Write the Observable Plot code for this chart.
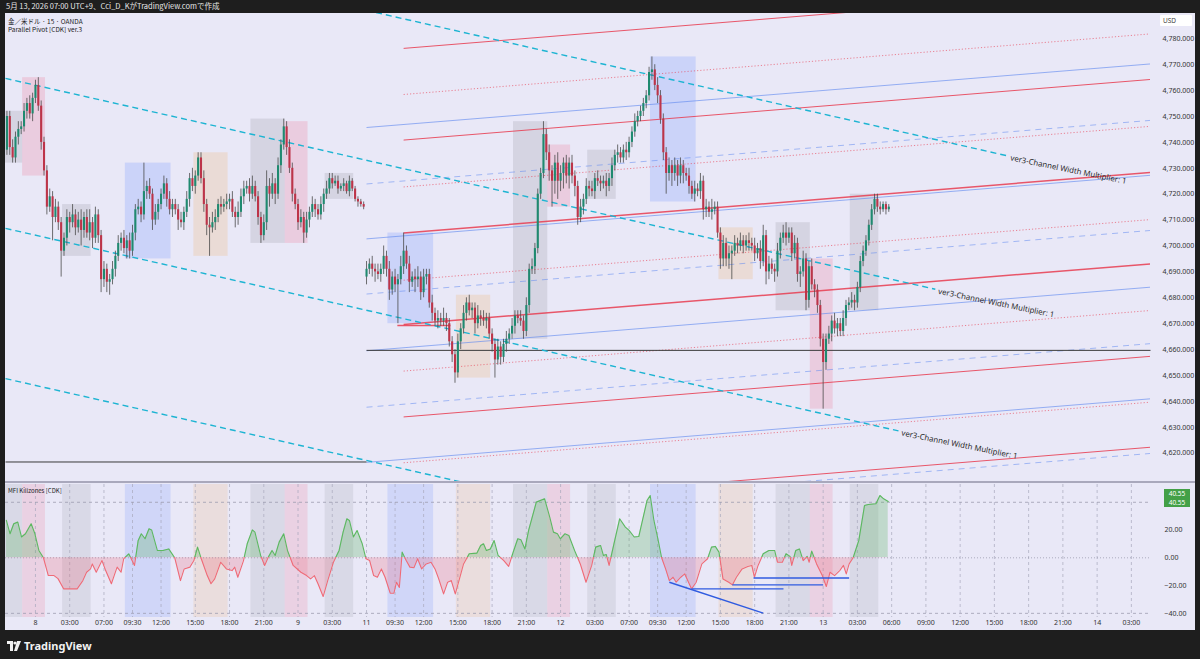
<!DOCTYPE html>
<html><head><meta charset="utf-8">
<script src="https://cdn.jsdelivr.net/npm/d3@7"></script>
<script src="https://cdn.jsdelivr.net/npm/@observablehq/plot@0.6"></script>
<style>
html,body{margin:0;padding:0;background:#1e1e1e;width:1200px;height:659px;overflow:hidden;font-family:"Noto Sans",sans-serif;}
#topbar{position:absolute;left:6px;top:0px;color:#e6e6e6;font-size:7.5px;line-height:12px;font-family:"Noto Sans CJK JP","Noto Sans",sans-serif;}
#chart{position:absolute;left:5px;top:13px;width:1190px;height:617px;background:#e9e8f7;overflow:hidden;}
#main{position:absolute;left:0;top:0;}
#sep{position:absolute;left:0;top:468px;width:1190px;height:2px;background:#a9a8bc;}
#mfi{position:absolute;left:0;top:471px;}
.clipbox{position:absolute;left:0;width:1190px;overflow:hidden;}
.clipbox > svg{position:absolute;left:0;}
.legend{position:absolute;left:3px;color:#222;font-size:6.5px;line-height:8px;font-family:"Noto Sans CJK JP","Noto Sans",sans-serif;}
#usd{position:absolute;left:1155px;top:2px;width:29px;height:11px;background:#fff;color:#444;font-size:6.5px;line-height:11px;padding-left:3px;border-radius:1px;}
.mfilab{position:absolute;left:1159px;width:26px;height:9px;background:#43a047;color:#fff;font-size:6.5px;line-height:9px;text-align:center;}
#logo{position:absolute;left:7px;top:638px;color:#f2f2f2;font-size:11px;font-weight:bold;display:flex;align-items:center;gap:3px;font-family:"Noto Sans",sans-serif;}
</style></head>
<body>
<div id="topbar">5月 13, 2026 07:00 UTC+9、Cci_D_KがTradingView.comで作成</div>
<div id="chart">
  <div id="main"></div>
  <div id="sep"></div>
  <div id="mfi"></div>
  <div id="mfiPos" class="clipbox"></div>
  <div id="mfiNeg" class="clipbox"></div>
  <div class="legend" style="top:4px">金／米ドル · 15 · OANDA</div>
  <div class="legend" style="top:12px">Parallel Pivot [CDK] ver.3</div>
  <div class="legend" style="top:474px;font-size:6px">MFI Killzones [CDK]</div>
  <div id="usd">USD</div>
  <div class="mfilab" style="top:476px">40.55</div>
  <div class="mfilab" style="top:485px">40.55</div>
</div>
<div id="logo"><svg width="14" height="10" viewBox="0 0 14 10"><rect x="0" y="0" width="6" height="3" fill="#f2f2f2"/><rect x="3" y="0" width="3" height="10" fill="#f2f2f2"/><circle cx="8" cy="2" r="1.6" fill="#f2f2f2"/><polygon points="10,0 14,0 10,10 7,10" fill="#f2f2f2"/></svg>TradingView</div>
<script>
// ---------- candle data (15-minute bars, bar index 0 = May 8 00:00) ----------
const startA = -10, openA0 = 4737;
const closeA = [4750,4738,4734,4742,4745,4746,4752,4755,4751,4757,
 4762,4754,4740,4729,4715,4719,4711,4715,4709,4698,
 4703,4711,4709,4712,4707,4710,4706,4711,4705,4709,
 4703,4712,4704,4687,4691,4686,4687,4691,4696,4701,
 4703,4699,4702,4698,4705,4714,4715,4712,4721,4723,
 4720,4710,4713,4716,4720,4724,4718,4714,4716,4714,
 4710,4709,4713,4718,4726,4723,4727,4734,4726,4716,
 4708,4707,4709,4711,4716,4715,4716,4717,4718,4713,
 4711,4713,4719,4722,4723,4720,4723,4719,4711,4704,
 4709,4723,4720,4724,4720,4731,4739,4746,4738,4730,
 4720,4716,4709,4711,4705,4710,4713,4716,4714,4712,
 4716,4720,4722,4726,4724,4725,4722,4723,4724,4721,
 4725,4722,4718,4717,4716,4715];
const upA = [2,2,3,2,3,2,3,2,3,2, 2,3,2,2,2,3,2,3,2,2, 2,3,2,4,2,3,4,2,3,5, 2,3,2,2,3,2,2,3,2,3,
 2,3,2,3,3,2,3,2,11,2, 3,2,3,2,2,3,2,3,2,2, 2,3,2,3,2,4,2,2,2,3, 2,3,4,3,2,3,2,3,2,3,
 2,4,3,3,2,3,4,2,2,2, 3,6,3,4,2,3,2,3,2,3, 2,2,2,3,2,3,2,3,2,2, 3,2,3,2,2,2,2,1,2,1, 2,1,1,1,1,1];
const dnA = [2,3,2,2,3,2,2,3,2,3, 2,2,3,2,3,2,9,2,3,10, 2,3,4,2,3,2,6,3,2,3, 4,2,3,5,3,4,5,2,3,2,
 3,2,4,3,2,3,2,3,2,3, 2,4,2,3,2,2,3,2,3,2, 4,2,3,2,3,2,3,2,2,3, 4,11,2,3,2,3,2,2,3,2,
 4,3,2,3,2,3,2,2,3,3, 2,3,5,2,4,2,3,2,3,2, 3,2,3,2,4,2,3,2,3,2, 2,3,2,2,2,1,2,1,2,1, 2,1,1,2,1,1];

const startB = 116, openB0 = 4688;
const closeB = [4691,4693,4691,4690,4689,4691,4696,4691,4683,4688,
 4685,4687,4692,4698,4693,4686,4688,4687,4688,4682,
 4688,4689,4678,4674,4671,4672,4671,4672,4670,4663,
 4658,4651,4663,4668,4674,4678,4675,4676,4670,4673,
 4672,4671,4672,4666,4662,4656,4661,4657,4662,4664,
 4666,4669,4673,4672,4671,4667,4677,4691,4692,4699,
 4720,4728,4743,4736,4729,4725,4732,4725,4728,4732,
 4727,4732,4727,4723,4711,4715,4718,4723,4722,4721,
 4726,4725,4724,4725,4723,4726,4731,4735,4736,4734,
 4737,4736,4740,4744,4748,4750,4752,4755,4758,4767,
 4768,4762,4758,4749,4736,4728,4731,4728,4731,4727,
 4731,4728,4727,4723,4720,4722,4721,4725,4714,4715,
 4713,4714,4715,4705,4695,4701,4695,4697,4698,4701,
 4700,4702,4700,4702,4701,4700,4697,4699,4694,4704,
 4690,4693,4691,4690,4698,4703,4705,4703,4705,4697,
 4701,4689,4690,4695,4679,4692,4685,4683,4677,4664,
 4655,4664,4666,4671,4668,4670,4667,4672,4677,4678,
 4679,4678,4684,4694,4698,4702,4708,4714,4718,4715,
 4714,4716,4714,4715];
const upB = [3,2,3,2,3,2,4,2,3,2, 3,2,4,7,2,3,2,3,4,2, 3,2,2,3,2,3,2,4,2,2, 2,2,3,2,3,2,3,2,2,4,
 2,3,2,2,2,2,3,2,2,3, 2,3,2,2,3,2,3,2,3,2, 2,2,5,2,3,2,3,4,3,2, 3,2,3,2,2,3,2,3,2,3,
 2,3,2,2,3,2,3,2,3,2, 2,3,2,2,3,2,2,2,2,2, 5,2,3,2,2,2,3,2,3,2, 3,2,2,3,2,3,2,3,2,3,
 2,4,2,2,2,3,2,3,2,3, 2,3,2,2,3,2,3,2,3,4, 2,3,2,2,3,2,3,4,2,2, 3,2,2,3,2,2,3,2,2,2,
 2,2,3,2,3,2,2,3,2,2, 3,2,2,2,2,2,2,2,2,2, 2,1,1,1];
const dnB = [3,2,3,4,2,3,2,3,4,2, 3,15,2,3,2,4,2,5,3,3, 2,3,2,3,2,3,2,2,3,2, 3,4,2,3,2,3,2,3,4,2,
 3,2,3,2,3,7,2,3,2,3, 2,2,3,2,2,3,2,3,2,3, 2,2,2,3,4,10,5,7,4,6, 3,5,3,4,3,2,3,2,3,2,
 3,2,3,2,4,2,3,2,3,2, 2,3,2,2,2,2,2,2,2,2, 3,2,3,2,3,8,3,5,3,4, 3,4,2,3,2,3,2,3,4,3,
 2,3,2,2,4,3,3,4,10,2, 3,2,3,2,3,2,3,2,3,2, 5,3,2,4,2,3,2,3,2,3, 2,3,5,2,4,3,2,3,3,3,
 18,3,2,3,2,3,2,2,3,2, 2,3,2,2,2,2,2,2,2,2, 2,1,2,1];

// ---------- killzone sessions (bar-index edges) ----------
const sessStart = [-16.5,-4.5,9.5,31.5,55.5,75.5,87.5,101.5,123.5,147.5,167.5,179.5,193.5,215.5,239.5,259.5,271.5,285.5];
const sessEnd   = [-4.5,3.5,19.5,47.5,67.5,87.5,95.5,111.5,139.5,159.5,179.5,187.5,203.5,231.5,251.5,271.5,279.5,295.5];
const sessType  = ["gray","pink","gray","blue","orange","gray","pink","gray","blue","orange","gray","pink","gray","blue","orange","gray","pink","gray"];

// ---------- parallel pivot lines ----------
const pivKind = ["rs","rd","bs","rs","bd","rd","rsT","bs","bd","rd","rsT","bs","rd","bd","rs","bs","rd","rs","bd"];
const pivP0 = [4776.3,4758.5,4745.75,4740.9,4723.95,4722.8,4705.0,4702.75,4681.45,4686.8,4669.7,4659.55,4651.7,4637.75,4634.0,4616.45,4616.3,4598.9,4595.35];
const pivP1 = [4799.7,4781.9,4770.3,4764.3,4748.5,4746.2,4728.4,4727.3,4706.0,4710.2,4693.1,4684.1,4675.1,4662.3,4657.4,4641.0,4639.7,4622.3,4619.9];
const redStart = 129, blueStart = 116, pivEnd = 390.7;
const segI0 = [126.8], segI1 = [145.4], segP = [4669.3];

// ---------- horizontal black levels ----------
const levelI0 = [-10.5, 116], levelI1 = [116, 390.7], levelP = [4616.6, 4659.7];

// ---------- channel lines ----------
const chanI0 = [-10.5,-10.5,-10.5,-10.5];
const chanP0 = [4822.6,4764.7,4706.8,4648.8];
const chanI1 = [340.6,315.3,302.4,302.4];
const chanP1 = [4734.8,4683.3,4628.6,4570.6];
const chanLabel = ["ver3-Channel Width Multiplier: 1","ver3-Channel Width Multiplier: 1","ver3-Channel Width Multiplier: 1",""];

// ---------- axes ----------
const priceTicks = [4620,4630,4640,4650,4660,4670,4680,4690,4700,4710,4720,4730,4740,4750,4760,4770,4780];
const timeTickIdx = [0,12,24,34,44,56,68,80,92,104,116,126,136,148,160,172,184,196,208,218,228,240,252,264,276,288,300,312,324,336,348,360,372,384];
const timeTickLabel = ["8","03:00","07:00","09:30","12:00","15:00","18:00","21:00","9","03:00","11","09:30","12:00","15:00","18:00","21:00","12","03:00","07:00","09:30","12:00","15:00","18:00","21:00","13","03:00","06:00","09:00","12:00","15:00","18:00","21:00","14","03:00"];
const mfiTicks = [20,0,-20,-40];

// ---------- MFI ----------
const mfiI = [-10.2,-8.9,-7.6,-6.2,-4.9,-3.5,-1.5,-0.2,1.2,2.8,4.5,6.5,7.9,9.9,14.6,16.6,17.9,19.3,19.9,21.3,23.3,24.6,26.6,28.6,30,30.9,32.7,34.7,36,37.1,38.4,39.8,40.7,42.7,44.7,46.7,48.8,50.8,52.1,54.1,55.5,56.8,58.1,60.2,61.5,62.8,64.9,66.9,68.9,69.8,70.9,72.9,74.2,76,76.9,78.9,80.3,81.6,82.9,84,85.4,87,88.3,90.3,93,95,96.4,97.7,99,100.8,102.4,104.4,106.4,107.8,109.1,110,111.4,112.7,114.5,115.8,117.1,118.5,119.8,121.2,122.5,124.3,125.6,126.5,127.5,128.5,129.9,131.2,132.6,133.9,135.3,136.9,138.6,140,141.3,143,144.4,145.7,147.1,148.4,150,152,154.7,156,157,158,159.4,160.7,162.1,164.1,165.8,167.4,169,170.1,171.5,172.8,175.5,178.4,180.2,181.5,182.9,183.9,185.5,186.9,188.9,190.9,192.9,194.9,196.3,198,199,200,201,202.7,204.7,206.7,208,209.8,211.4,212.7,214.3,215.4,216.7,218.1,219.4,220.8,222.1,223.4,224.5,226.1,227.5,229.9,231.5,233.5,235.5,236.9,238.2,239.5,240.9,242.9,244.2,245.6,247.6,249.6,251,251.9,253.2,255,257,259,260,261.7,263,264.4,265,266.4,267.7,269,270.4,271.1,272,273.7,275.7,277.1,278.4,280,281.8,283.1,284.1,285.1,286.5,288.5,290.5,291.8,294.5,295.9,297.2,298.8];
const mfiV = [27,17.3,24.5,25.7,15,17.3,24.5,17.3,5.3,0,-12.8,-12.8,-15,-22.4,-22.4,-16.4,-10.4,-8,-4.4,-10.4,-2,-9.2,-18.7,-6.7,-10.4,-0.7,2.9,-5.5,12.5,17.3,13.7,20.9,20.1,5.3,5.3,6.4,0,-16.4,-8,-6.7,-2,7.7,-0.7,-12.8,-18.7,-15.2,-3.2,-8,-9.2,-6.7,-14,-2,10.1,20.1,18.5,1.7,-5.5,0.5,5.3,1.7,11.3,17.3,5.3,-5.5,-10.4,-12.8,-15.2,-12.8,-18.7,-27.9,-16.4,-3.2,5.3,18.5,28.1,26.9,15,19.7,10.1,-0.7,-2,-12.8,-14,-8,-14,-25.5,-25.5,-17.6,-21.4,4.1,-2,-6.7,-7.2,-0.7,-8,-4.4,-3.2,-8,-15.2,-26,-17.6,-16.4,-26,-16.4,-4.4,2.9,3.4,8.9,10.1,5.3,6.4,12.5,1.7,-2,-6.2,4.1,13.7,13,6.4,19.7,40.1,42.5,29.3,18.5,17.3,13.7,17.3,16.1,5.3,-4.4,-17.6,-5.5,7.7,8.9,1.7,2.4,-5.5,10.1,28.1,22.1,19.7,15,15.3,26.9,41.3,44.9,26.9,13.7,0,-8,-16.4,-14,-17.6,-14,-11.6,-22.4,-17.6,-4.4,-0.7,7.7,8.2,4.1,-15.2,-17.6,-19.5,-14,-8,-6.2,-5.5,-14,-5.5,2.9,5.3,5.3,-3.2,-3.2,2.9,1,-5.5,5.3,6.4,-2,1,-3.2,4.8,-4.4,-12.8,-20.7,-10.4,-12.8,-9.2,-5.5,-11.6,-4.4,0,12.5,37.7,38.4,38.9,44.9,42.5,40.6];
const divI0 = [222.1,229.9,244.2,251.6], divV0 = [-17.6,-22.4,-19.5,-14.5];
const divI1 = [255,262.1,276,285.1],   divV1 = [-39.9,-22.4,-19.5,-14.5];

// ---------- build tables ----------
function buildBars(closes, open0, ups, dns, start){
  return closes.map((c,k)=>{
    const o = k===0 ? open0 : closes[k-1];
    return {i:start+k, open:o, close:c, high:Math.max(o,c)+(ups[k]??1), low:Math.min(o,c)-(dns[k]??1)};
  });
}
const bars = buildBars(closeA, openA0, upA, dnA, startA).concat(buildBars(closeB, openB0, upB, dnB, startB));
const sessions = sessStart.map((s,k)=>({s, e:sessEnd[k], type:sessType[k]}));
const boxes = sessions.map(d=>{
  const inside = bars.filter(b=>b.i>d.s && b.i<d.e);
  return {...d, lo:d3.min(inside,b=>b.low), hi:d3.max(inside,b=>b.high)};
}).filter(d=>d.lo!==undefined);
const pivots = pivKind.map((kind,k)=>({kind, i0: kind[0]==="r"?redStart:blueStart, p0:pivP0[k], i1:pivEnd, p1:pivP1[k]}));
const chans = chanI0.map((i0,k)=>({i0, p0:chanP0[k], i1:chanI1[k], p1:chanP1[k], label:chanLabel[k]}));
const levels = levelI0.map((i0,k)=>({i0, i1:levelI1[k], p:levelP[k]}));
const segs = segI0.map((i0,k)=>({i0, i1:segI1[k], p:segP[k]}));
const mfi = mfiI.map((i,k)=>({i, v:mfiV[k]}));
const divs = divI0.map((i0,k)=>({i0, v0:divV0[k], i1:divI1[k], v1:divV1[k]}));
const labelMap = new Map(timeTickIdx.map((d,k)=>[d,timeTickLabel[k]]));

const boxFill = {gray:"rgba(140,140,155,0.22)", pink:"rgba(240,120,150,0.25)", blue:"rgba(120,150,255,0.26)", orange:"rgba(240,190,140,0.3)"};
const bandFill = {gray:"rgba(140,140,155,0.17)", pink:"rgba(240,120,150,0.2)", blue:"rgba(120,150,255,0.22)", orange:"rgba(240,190,140,0.24)"};
const GREEN = "#1f8a70", RED = "#bd3449";
const RS = "rgba(232,60,80,0.85)", RD = "rgba(232,60,80,0.6)", BS = "rgba(100,140,240,0.65)", BD = "rgba(100,140,240,0.55)";
const XD = [-10.5, 390.7];
const MFI_DOMAIN = [-43, 52.8];

const mainPlot = Plot.plot({
  width:1190, height:468, marginLeft:0, marginRight:45, marginTop:0, marginBottom:0,
  style:{background:"transparent", fontFamily:"Noto Sans, sans-serif", fontSize:"7px", color:"#333"},
  x:{domain:XD, axis:null},
  y:{domain:[4609.07,4789.77], axis:null},
  marks:[
    Plot.rect(boxes, {x1:"s", x2:"e", y1:"lo", y2:"hi", fill:d=>boxFill[d.type], clip:true}),
    Plot.link(pivots.filter(d=>d.kind==="bd"), {x1:"i0",y1:"p0",x2:"i1",y2:"p1", stroke:BD, strokeWidth:1, strokeDasharray:"6,5", clip:true}),
    Plot.link(pivots.filter(d=>d.kind==="bs"), {x1:"i0",y1:"p0",x2:"i1",y2:"p1", stroke:BS, strokeWidth:1, clip:true}),
    Plot.link(pivots.filter(d=>d.kind==="rd"), {x1:"i0",y1:"p0",x2:"i1",y2:"p1", stroke:RD, strokeWidth:1, strokeDasharray:"1.2,2", clip:true}),
    Plot.link(pivots.filter(d=>d.kind==="rs"), {x1:"i0",y1:"p0",x2:"i1",y2:"p1", stroke:RS, strokeWidth:1, clip:true}),
    Plot.link(pivots.filter(d=>d.kind==="rsT"), {x1:"i0",y1:"p0",x2:"i1",y2:"p1", stroke:RS, strokeWidth:1.5, clip:true}),
    Plot.link(segs, {x1:"i0", x2:"i1", y1:"p", y2:"p", stroke:RS, strokeWidth:1.6}),
    Plot.link(levels, {x1:"i0", x2:"i1", y1:"p", y2:"p", stroke:"#3a3a3a", strokeWidth:1}),
    Plot.link(chans, {x1:"i0",y1:"p0",x2:"i1",y2:"p1", stroke:"#1db4d2", strokeWidth:1.4, strokeDasharray:"6,4", clip:true}),
    Plot.text(chans.filter(d=>d.label), {x:"i1", y:"p1", text:"label", rotate:11.5, textAnchor:"start", dx:3, dy:2, fontSize:7.8, fill:"#2a2a2a"}),
    Plot.ruleX(bars, {x:"i", y1:"low", y2:"high", stroke:"#4a4a4a", strokeWidth:0.8}),
    Plot.ruleX(bars, {x:"i", y1:"open", y2:"close", stroke:d=>d.close>=d.open?GREEN:RED, strokeWidth:2.1}),
    Plot.axisY(priceTicks, {anchor:"right", tickFormat:d3.format(",.3f"), tickSize:0, tickPadding:12, fontSize:7, fill:"#333", label:null})
  ]
});
document.getElementById("main").appendChild(mainPlot);

const mfiBase = {width:1190, height:146, marginLeft:0, marginRight:45, marginTop:0, marginBottom:13,
  style:{background:"transparent", fontFamily:"Noto Sans, sans-serif", fontSize:"7px", color:"#333"},
  x:{domain:XD, axis:null}, y:{domain:MFI_DOMAIN, axis:null}};

const mfiPlot = Plot.plot({...mfiBase,
  marks:[
    Plot.rect(sessions, {x1:"s", x2:"e", fill:d=>bandFill[d.type], clip:true}),
    Plot.ruleX(timeTickIdx, {stroke:"#a8a8bc", strokeWidth:0.7, strokeDasharray:"3,3"}),
    Plot.ruleY([40,-40], {stroke:"#9c9cb0", strokeWidth:0.8, strokeDasharray:"3,3"}),
    Plot.ruleY([0], {stroke:"#9c9cb0", strokeWidth:0.8, strokeDasharray:"1,2"}),
    Plot.axisX(timeTickIdx, {anchor:"bottom", tickFormat:d=>labelMap.get(d), tickSize:0, tickPadding:3, fontSize:7, fill:"#333", label:null}),
    Plot.axisY(mfiTicks, {anchor:"right", tickFormat:d3.format(".2f"), tickSize:0, tickPadding:14, fontSize:7, fill:"#333", label:null})
  ]
});
document.getElementById("mfi").appendChild(mfiPlot);

// zero-line pixel position from the MFI y scale
let y0;
try { y0 = mfiPlot.scale("y").apply(0); } catch(e) { y0 = NaN; }
if (!isFinite(y0)) y0 = 133 * MFI_DOMAIN[1] / (MFI_DOMAIN[1] - MFI_DOMAIN[0]);

const posPlot = Plot.plot({...mfiBase,
  marks:[
    Plot.areaY(mfi, {x:"i", y1:0, y2:"v", fill:"rgba(76,175,80,0.26)"}),
    Plot.line(mfi, {x:"i", y:"v", stroke:"#5cb860", strokeWidth:1.1})
  ]
});
const negPlot = Plot.plot({...mfiBase,
  marks:[
    Plot.areaY(mfi, {x:"i", y1:0, y2:"v", fill:"rgba(242,70,90,0.2)"}),
    Plot.line(mfi, {x:"i", y:"v", stroke:"#ef6b77", strokeWidth:1.1}),
    Plot.link(divs, {x1:"i0", y1:"v0", x2:"i1", y2:"v1", stroke:"#2f5be0", strokeWidth:1.4})
  ]
});
const posBox = document.getElementById("mfiPos");
posBox.style.top = "471px"; posBox.style.height = y0 + "px";
posPlot.style.top = "0px";
posBox.appendChild(posPlot);
const negBox = document.getElementById("mfiNeg");
negBox.style.top = (471 + y0) + "px"; negBox.style.height = (133 - y0) + "px";
negPlot.style.top = (-y0) + "px";
negBox.appendChild(negPlot);
</script>
</body></html>
